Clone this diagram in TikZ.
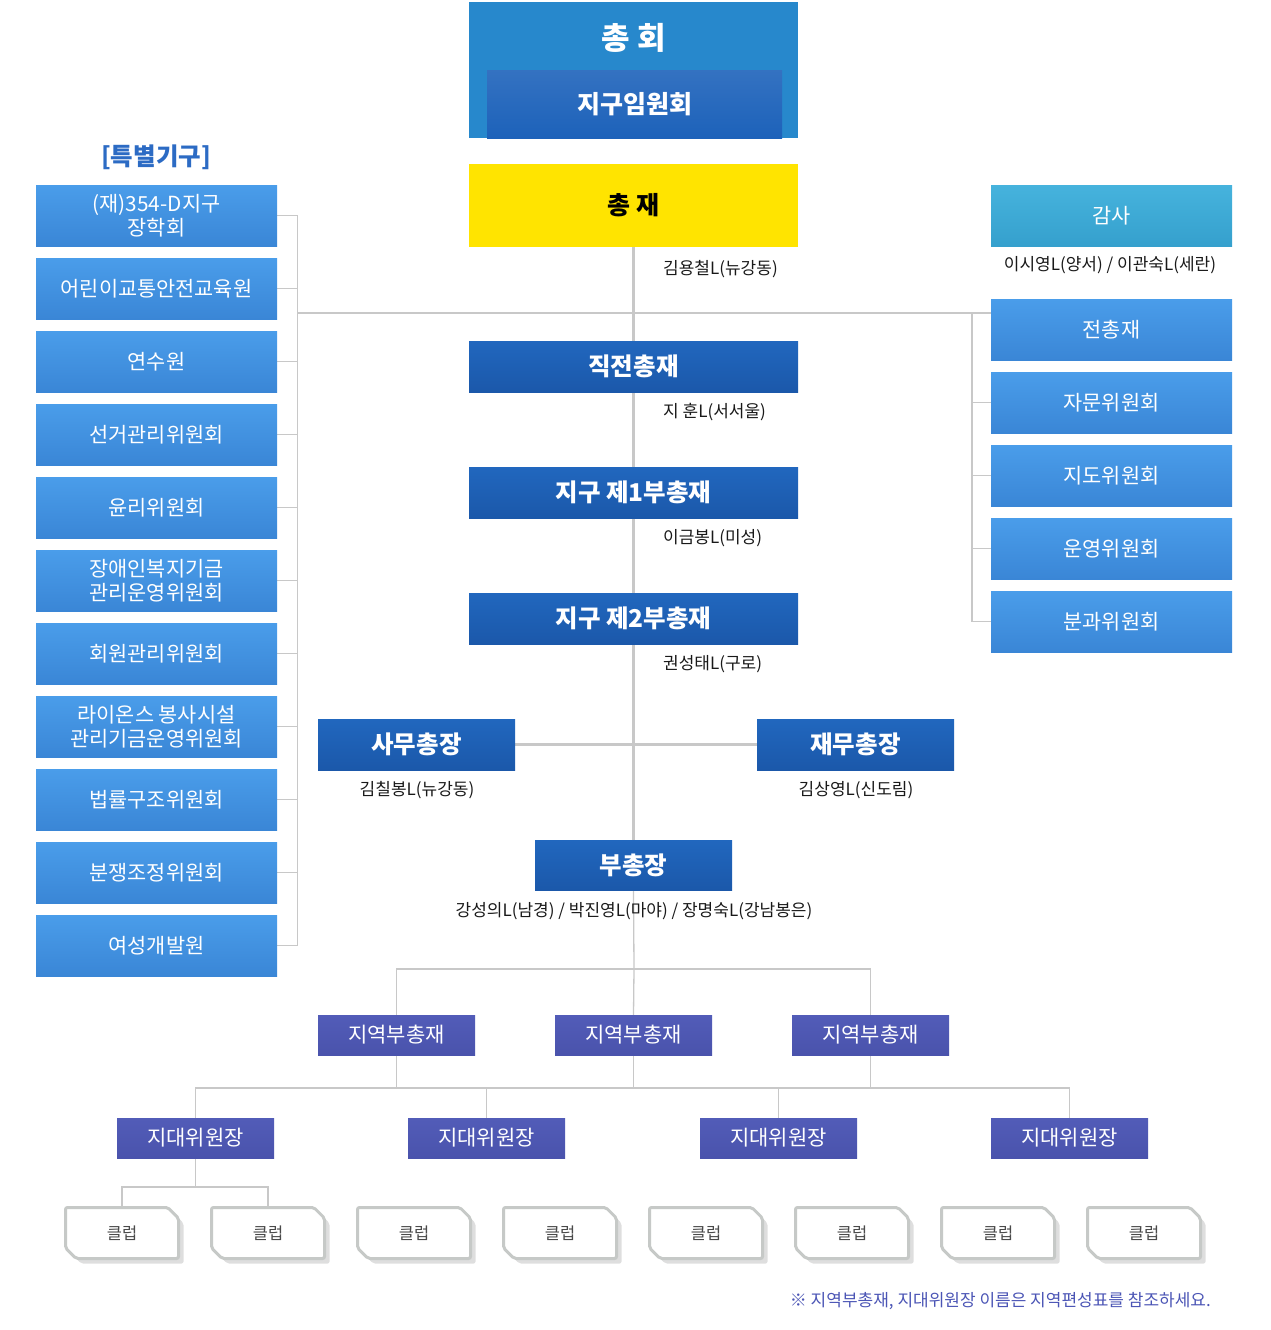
\documentclass[tikz,border=0pt]{standalone}
\usepackage{fontspec}
\setmainfont{Noto Sans CJK KR}
\usetikzlibrary{shapes.misc,shadows,backgrounds}
\definecolor{lineg}{HTML}{C8C8C8}
\definecolor{hoeblue}{HTML}{2788CC}
\definecolor{innerblue}{HTML}{1D62BA}
\definecolor{mbtop}{HTML}{2167BE}
\definecolor{mbbot}{HTML}{1B58AA}
\definecolor{sbtop}{HTML}{4A9DEA}
\definecolor{sbbot}{HTML}{3A86D6}
\definecolor{autop}{HTML}{46B3DD}
\definecolor{aubot}{HTML}{35A0CD}
\definecolor{rgtop}{HTML}{525CB8}
\definecolor{rgbot}{HTML}{4A53AC}
\definecolor{yel}{HTML}{FFE400}
\definecolor{clubg}{HTML}{C6C9C7}
\definecolor{clubt}{HTML}{4A4A4A}
\definecolor{titleblue}{HTML}{2C6BC4}
\definecolor{notec}{HTML}{4B55B5}
\tikzset{
  lt/.style={draw=lineg, line width=1.3pt},
  tk/.style={draw=lineg, line width=3pt},
  sidebox/.style={rectangle, minimum width=241pt, minimum height=61pt, inner sep=0pt,
    top color=sbtop, bottom color=sbbot, text=white, align=center,
    font=\fontsize{20.8}{24}\selectfont},
  auditbox/.style={sidebox, top color=autop, bottom color=aubot},
  mainbox/.style={rectangle, minimum width=329pt, minimum height=51pt, inner sep=0pt,
    top color=mbtop, bottom color=mbbot, text=white,
    font=\bfseries\fontsize{24.5}{28}\selectfont},
  smallmain/.style={mainbox, minimum width=197pt},
  regbox/.style={rectangle, minimum width=157pt, minimum height=40pt, inner sep=0pt,
    top color=rgtop, bottom color=rgbot, text=white,
    font=\fontsize{21}{24}\selectfont},
  clubbox/.style={chamfered rectangle, chamfered rectangle corners={north east,south west},
    chamfered rectangle xsep=7pt, minimum width=113pt, minimum height=51pt, inner sep=0pt,
    draw=clubg, line width=3pt, fill=white, text=clubt, rounded corners=2pt,
    font=\fontsize{16.5}{18}\selectfont,
    drop shadow={shadow xshift=5pt, shadow yshift=-5pt, fill=black!13, opacity=1}},
  namelbl/.style={text=black!90, inner sep=0pt, font=\fontsize{17}{19}\selectfont},
}
\begin{document}
\begin{tikzpicture}[x=1pt,y=-1pt]
\useasboundingbox (0,0) rectangle (1270,1330);

% top
\node (hoe) [rectangle, fill=hoeblue, minimum width=329pt, minimum height=136pt, inner sep=0pt] at (633.5,70) {};
\node (hoeT) [text=white, font=\bfseries\fontsize{31}{33}\selectfont] at (634,38) {총 회};
\node (imwon) [rectangle, top color=innerblue!90!white, bottom color=innerblue, minimum width=295pt, minimum height=67pt, inner sep=0pt, text=white, font=\bfseries\fontsize{25}{28}\selectfont] at (634.5,104.5) {지구임원회};

\node (cj) [rectangle, fill=yel, minimum width=329pt, minimum height=83pt, inner sep=0pt, text=black, font=\bfseries\fontsize{25}{28}\selectfont] at (633.5,205.5) {총 재};
\node (cjN) [namelbl, anchor=west] at (663,269) {김용철L(뉴강동)};

\node (jj) [mainbox] at (633.5,366.5) {직전총재};
\node (jjN) [namelbl, anchor=west] at (663,412) {지 훈L(서서울)};
\node (b1) [mainbox] at (633.5,492.5) {지구 제1부총재};
\node (b1N) [namelbl, anchor=west] at (663,538) {이금봉L(미성)};
\node (b2) [mainbox] at (633.5,618.5) {지구 제2부총재};
\node (b2N) [namelbl, anchor=west] at (663,664) {권성태L(구로)};

\node (samu) [smallmain] at (416.5,744.5) {사무총장};
\node (samuN) [namelbl] at (417,790) {김칠봉L(뉴강동)};
\node (jaemu) [smallmain] at (855.5,744.5) {재무총장};
\node (jaemuN) [namelbl] at (856,790) {김상영L(신도림)};

\node (bu) [smallmain, minimum height=50pt] at (633.5,865) {부총장};
\node (buN) [namelbl] at (634,911) {강성의L(남경) / 박진영L(마야) / 장명숙L(강남봉은)};

% left column
\node (spT) [text=titleblue, font=\bfseries\fontsize{24.5}{28}\selectfont] at (156,157) {[특별기구]};
\node (L1) [sidebox] at (156.5,215.5) {(재)354-D지구\\장학회};
\node (L2) [sidebox] at (156.5,288.5) {어린이교통안전교육원};
\node (L3) [sidebox] at (156.5,361.5) {연수원};
\node (L4) [sidebox] at (156.5,434.5) {선거관리위원회};
\node (L5) [sidebox] at (156.5,507.5) {윤리위원회};
\node (L6) [sidebox] at (156.5,580.5) {장애인복지기금\\관리운영위원회};
\node (L7) [sidebox] at (156.5,653.5) {회원관리위원회};
\node (L8) [sidebox] at (156.5,726.5) {라이온스 봉사시설\\관리기금운영위원회};
\node (L9) [sidebox] at (156.5,799.5) {법률구조위원회};
\node (L10) [sidebox] at (156.5,872.5) {분쟁조정위원회};
\node (L11) [sidebox] at (156.5,945.5) {여성개발원};

% right column
\node (gamsa) [auditbox] at (1111.5,215.5) {감사};
\node (gamsaN) [namelbl] at (1110,265) {이시영L(양서) / 이관숙L(세란)};
\node (R1) [sidebox] at (1111.5,329.5) {전총재};
\node (R2) [sidebox] at (1111.5,402.5) {자문위원회};
\node (R3) [sidebox] at (1111.5,475.5) {지도위원회};
\node (R4) [sidebox] at (1111.5,548.5) {운영위원회};
\node (R5) [sidebox] at (1111.5,621.5) {분과위원회};

% regional
\node (V1) [regbox] at (396.5,1035) {지역부총재};
\node (V2) [regbox] at (633.5,1035) {지역부총재};
\node (V3) [regbox] at (870.5,1035) {지역부총재};

\node (D1) [regbox] at (195.5,1138) {지대위원장};
\node (D2) [regbox] at (486.5,1138) {지대위원장};
\node (D3) [regbox] at (778.5,1138) {지대위원장};
\node (D4) [regbox] at (1069.5,1138) {지대위원장};

\foreach \i/\xx in {1/122,2/268,3/414,4/560,5/706,6/852,7/998,8/1144}
  \node (C\i) [clubbox] at (\xx,1233) {클럽};

\node (note) [anchor=east, text=notec, inner sep=0pt, font=\fontsize{17}{19}\selectfont] at (1211,1301) {※ 지역부총재, 지대위원장 이름은 지역편성표를 참조하세요.};

% connectors
\coordinate (lbus) at (297.5,313);
\coordinate (rbus) at (972,313);
\coordinate (j1) at (634,969);
\coordinate (j2) at (634,1088);
\coordinate (j3) at (195.5,1187);

\begin{scope}[on background layer]
  \draw[tk] (cj.south) -- (bu.north);
  \draw[tk] (samu.east) -- (jaemu.west);
  \draw[lt] (lbus) -- (rbus);
  \draw[lt] (L1.east -| lbus) -- (L11.east -| lbus);
  \foreach \n in {L1,L2,L3,L4,L5,L6,L7,L8,L9,L10,L11}
    \draw[lt] (\n.east) -- (\n.east -| lbus);
  \draw[lt] (rbus) -- (R5.west -| rbus);
  \draw[lt] (rbus) -- (R1.west |- rbus);
  \foreach \n in {R2,R3,R4,R5}
    \draw[lt] (\n.west) -- (\n.west -| rbus);
  \draw[lt] (bu.south) -- (j1);
  \draw[lt] (V1.north) |- (j1) -| (V3.north);
  \draw[lt] (j1) -- (V2.north);
  \foreach \n in {V1,V2,V3}
    \draw[lt] (\n.south) -- (\n.south |- j2);
  \draw[lt] (D1.north) |- (j2) -| (D4.north);
  \draw[lt] (D2.north) -- (D2.north |- j2);
  \draw[lt] (D3.north) -- (D3.north |- j2);
  \draw[lt] (D1.south) -- (j3);
  \draw[lt] (C1.north) |- (j3) -| (C2.north);
\end{scope}
\end{tikzpicture}
\end{document}
